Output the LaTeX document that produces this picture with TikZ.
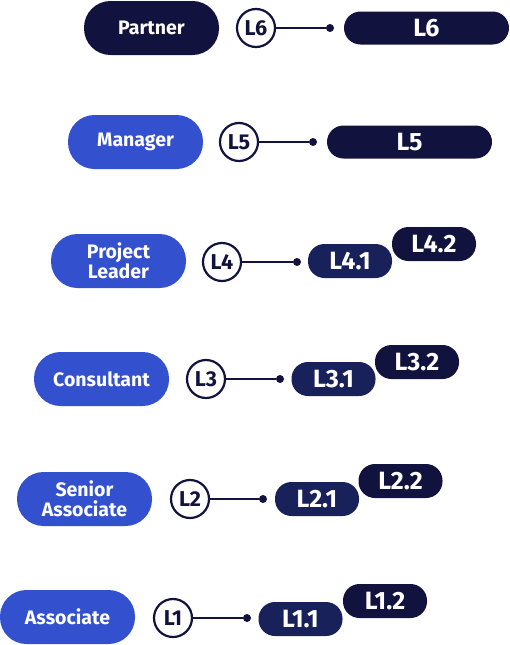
\documentclass[tikz,border=0pt]{standalone}
\usepackage{fontspec}
\setmainfont{Fira Sans}
\usepackage{tikz}
\usetikzlibrary{positioning}

\definecolor{navy}{HTML}{12123E}
\definecolor{midnavy}{HTML}{18215A}
\definecolor{royal}{HTML}{3351CF}

\begin{document}
\begin{tikzpicture}[
        x=1pt, y=-1pt,
        role/.style={rectangle, rounded corners=26.5pt, minimum width=135pt, minimum height=54pt, inner sep=0pt, fill=royal, text=white, align=center, font=\bfseries\fontsize{19.5}{20}\selectfont},
        toprole/.style={role, fill=navy},
        level/.style={circle, draw=navy, line width=2.2pt, fill=white, minimum size=38pt, inner sep=0pt, text=navy, font=\bfseries\fontsize{21.5}{22}\selectfont},
        dot/.style={circle, fill=navy, minimum size=8pt, inner sep=0pt},
        band/.style={rectangle, rounded corners=16.5pt, minimum width=165pt, minimum height=33pt, inner sep=0pt, fill=navy, text=white, font=\bfseries\fontsize{25}{26}\selectfont},
        subband/.style={band, minimum width=84pt, minimum height=34pt, rounded corners=16.5pt},
        link/.style={navy, line width=2pt}
    ]
    \useasboundingbox (0,0) rectangle (510,645);

    % L6: Partner
    \node[toprole] (partner) at (151.5, 28) {Partner};
    \node[level] (c6) at (256, 28) {L6};
    \node[dot] (d6) at (330, 28) {};
    \node[band] (b6) at (426.5, 28) {L6};

    % L5: Manager
    \node[role] (manager) at (135.5, 142) {Manager};
    \node[level] (c5) at (239, 142) {L5};
    \node[dot] (d5) at (313, 142) {};
    \node[band] (b5) at (409.5, 142) {L5};

    % L4: Project Leader
    \node[role] (leader) at (118.5, 261) {Project\\Leader};
    \node[level] (c4) at (222, 262) {L4};
    \node[dot] (d4) at (297, 262) {};
    \node[subband, fill=midnavy] (b41) at (350, 261) {L4.1};
    \node[subband] (b42) at (434, 244) {L4.2};

    % L3: Consultant
    \node[role] (consultant) at (101.5, 379) {Consultant};
    \node[level] (c3) at (206, 379) {L3};
    \node[dot] (d3) at (280, 379) {};
    \node[subband, fill=midnavy] (b31) at (333.5, 379) {L3.1};
    \node[subband] (b32) at (417, 362) {L3.2};

    % L2: Senior Associate
    \node[role] (senior) at (84.5, 499) {Senior\\Associate};
    \node[level] (c2) at (190, 499) {L2};
    \node[dot] (d2) at (263, 499) {};
    \node[subband, fill=midnavy] (b21) at (317, 499) {L2.1};
    \node[subband] (b22) at (400.5, 481) {L2.2};

    % L1: Associate
    \node[role] (associate) at (67.5, 617) {Associate};
    \node[level] (c1) at (173, 618) {L1};
    \node[dot] (d1) at (247, 618) {};
    \node[subband, fill=midnavy] (b11) at (300.5, 619) {L1.1};
    \node[subband] (b12) at (385, 601) {L1.2};

    % --- Links ---
    \draw[link] (c6) -- (d6);
    \draw[link] (c5) -- (d5);
    \draw[link] (c4) -- (d4);
    \draw[link] (c3) -- (d3);
    \draw[link] (c2) -- (d2);
    \draw[link] (c1) -- (d1);

\end{tikzpicture}
\end{document}
